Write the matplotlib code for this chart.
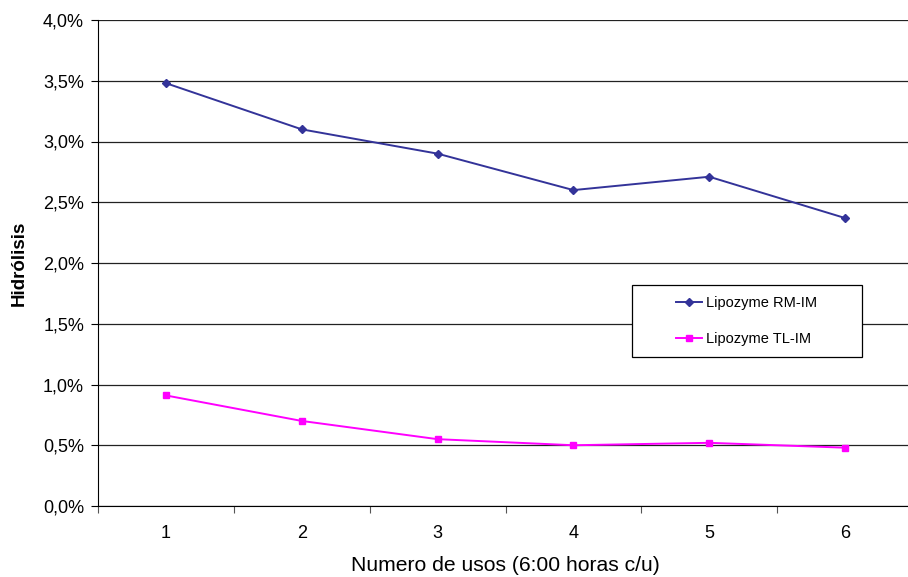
import matplotlib
matplotlib.use("Agg")
import matplotlib.pyplot as plt
from matplotlib.patches import Rectangle
from matplotlib.ticker import FuncFormatter, FixedLocator, NullFormatter

plt.rcParams['font.family'] = ['Liberation Sans', 'DejaVu Sans']

usos = [1, 2, 3, 4, 5, 6]
rm_im = [3.48, 3.10, 2.90, 2.60, 2.71, 2.37]
tl_im = [0.91, 0.70, 0.55, 0.50, 0.52, 0.48]

W, H = 908, 577
fig = plt.figure(figsize=(W/100, H/100), dpi=100)
ax = fig.add_axes([98/W, 1-506/H, 815/W, 486/H])

ax.plot(usos, rm_im, color='#333399', marker='D', markersize=4.5, linewidth=1.4,
        label='Lipozyme RM-IM', zorder=3)
ax.plot(usos, tl_im, color='#FF00FF', marker='s', markersize=5, linewidth=1.4,
        label='Lipozyme TL-IM', zorder=3)

ax.set_xlim(0.5, 6.5)
ax.set_ylim(0, 4.0)
ax.set_yticks([i*0.5 for i in range(9)])
ax.yaxis.set_major_formatter(FuncFormatter(lambda v, p: f"{v:.1f}%".replace('.', ',')))
ax.grid(axis='y', color='#222222', linewidth=0.9)
ax.set_axisbelow(True)

ax.xaxis.set_major_locator(FixedLocator([i + 0.5 for i in range(0, 7)]))
ax.xaxis.set_major_formatter(NullFormatter())
ax.xaxis.set_minor_locator(FixedLocator(usos))
ax.set_xticklabels([str(u) for u in usos], minor=True)
ax.tick_params(axis='x', which='minor', length=0, pad=14, labelsize=13)
ax.tick_params(axis='x', which='major', length=5, direction='out', color='#555555')
ax.tick_params(axis='y', length=5, direction='out', labelsize=13, pad=5)

for s in ['top', 'right']:
    ax.spines[s].set_visible(False)
ax.spines['left'].set_color('black')
ax.spines['bottom'].set_color('black')

ax.set_xlabel('Numero de usos (6:00 horas c/u)', fontsize=15.2, labelpad=10)
ax.set_ylabel('Hidrólisis', fontsize=13.5, fontweight='bold', labelpad=11)

# legend box (drawn in figure pixel coordinates)
bx0, by0, bx1, by1 = 632, 285, 862, 357
rect = Rectangle((bx0/W, 1-by1/H), (bx1-bx0)/W, (by1-by0)/H, transform=fig.transFigure,
                 facecolor='white', edgecolor='black', linewidth=0.9, zorder=5)
fig.patches.append(rect)
leg = fig.legend(*ax.get_legend_handles_labels(), loc='center',
                 bbox_to_anchor=((bx0+bx1)/2/W, 1-(by0+by1)/2/H),
                 frameon=False, fontsize=10.5, handlelength=1.75,
                 labelspacing=1.5, handletextpad=0.3, borderpad=0, borderaxespad=0)
leg.set_zorder(6)

fig.savefig('out.png', dpi=100)
